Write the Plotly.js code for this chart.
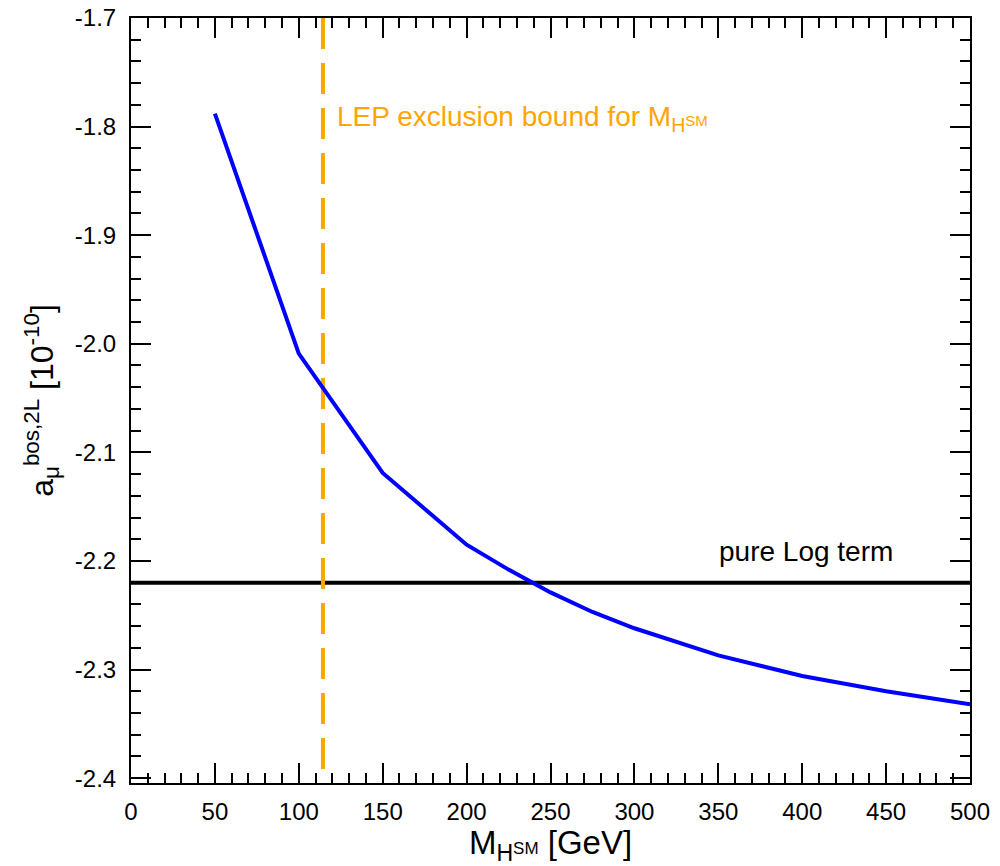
<!DOCTYPE html>
<html>
<head>
<meta charset="utf-8">
<script src="https://cdn.plot.ly/plotly-3.0.1.min.js"></script>
<style>html,body{margin:0;padding:0;background:#fff;}#chart{width:1000px;height:866px;}</style>
</head>
<body>
<div id="chart"></div>
<script>
// Data
const massGeV = [50, 100, 150, 200, 225, 250, 275, 300, 350, 400, 450, 500];
const aMuBos2L = [-1.788, -2.009, -2.119, -2.185, -2.208, -2.229, -2.247, -2.262, -2.287, -2.306, -2.320, -2.332];
const pureLogX = [0, 500];
const pureLogY = [-2.22, -2.22];
const lepBoundX = [114.4, 114.4];
const lepBoundY = [-1.7, -2.4];
const xTickVals = [0, 50, 100, 150, 200, 250, 300, 350, 400, 450, 500];
const xTickText = ["0", "50", "100", "150", "200", "250", "300", "350", "400", "450", "500"];
const yTickVals = [-1.7, -1.8, -1.9, -2.0, -2.1, -2.2, -2.3, -2.4];
const yTickText = ["-1.7", "-1.8", "-1.9", "-2.0", "-2.1", "-2.2", "-2.3", "-2.4"];

const FONT = "Liberation Sans, Arial, Helvetica, sans-serif";

const traces = [
  {x: pureLogX, y: pureLogY, mode: "lines", line: {color: "#000000", width: 4}, hoverinfo: "skip"},
  {x: lepBoundX, y: lepBoundY, mode: "lines", line: {color: "#FFA500", width: 4, dash: "31px,14px"}, hoverinfo: "skip"},
  {x: massGeV, y: aMuBos2L, mode: "lines", line: {color: "#0000FF", width: 4}, hoverinfo: "skip"}
];

const axisCommon = {
  showline: true, linecolor: "#000", linewidth: 2, mirror: "ticks",
  ticks: "inside", ticklen: 20, tickwidth: 2, tickcolor: "#000",
  showgrid: false, zeroline: false,
  tickfont: {family: FONT, size: 24, color: "#000"}
};

const layout = {
  width: 1000, height: 866,
  margin: {l: 131, r: 30, t: 18, b: 83},
  paper_bgcolor: "#fff", plot_bgcolor: "#fff",
  showlegend: false,
  font: {family: FONT, color: "#000"},
  xaxis: Object.assign({}, axisCommon, {
    range: [0, 500],
    tickmode: "array", tickvals: xTickVals, ticktext: xTickText,
    ticklabelstandoff: 6,
    minor: {dtick: 10, ticks: "inside", ticklen: 10, tickwidth: 2, tickcolor: "#000", showgrid: false},
    title: {text: "M<sub>H</sub><span style='font-size:17px'>SM</span> [GeV]", font: {family: FONT, size: 33, color: "#000"}, standoff: 5}
  }),
  yaxis: Object.assign({}, axisCommon, {
    range: [-2.4045, -1.7],
    tickmode: "array", tickvals: yTickVals, ticktext: yTickText,
    ticklabelstandoff: 8,
    minor: {dtick: 0.02, tick0: -1.7, ticks: "inside", ticklen: 10, tickwidth: 2, tickcolor: "#000", showgrid: false},
    title: {text: "a<sub>μ</sub><sup>bos,2L</sup> [10<sup>-10</sup>]", font: {family: FONT, size: 32, color: "#000"}, standoff: 12}
  }),
  annotations: [
    {x: 121.5, y: -1.793, xref: "x", yref: "y", xanchor: "left", yanchor: "middle", showarrow: false,
     text: "LEP exclusion bound for M<sub>H</sub><span style='font-size:15px'>SM</span>",
     font: {family: FONT, size: 28, color: "#FFA500"}},
    {x: 402, y: -2.191, xref: "x", yref: "y", xanchor: "center", yanchor: "middle", showarrow: false,
     text: "pure Log term", font: {family: FONT, size: 28, color: "#000"}}
  ]
};

Plotly.newPlot("chart", traces, layout, {staticPlot: true, displayModeBar: false});
</script>
</body>
</html>
